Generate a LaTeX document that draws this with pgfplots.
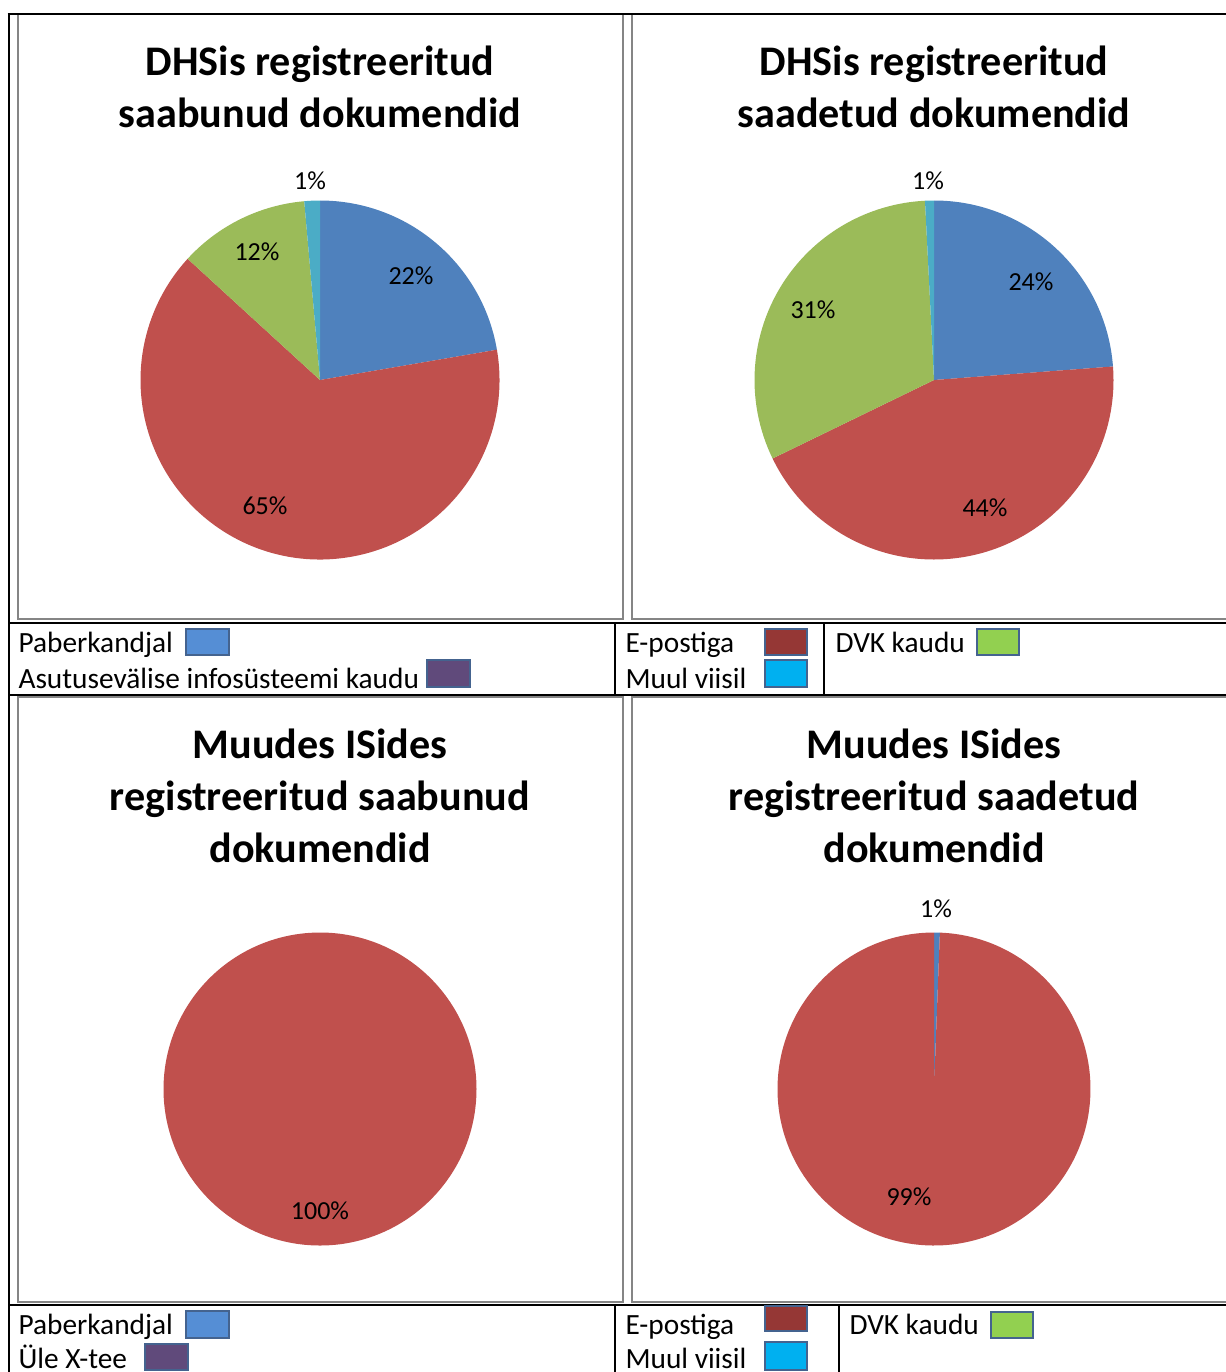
\documentclass[border=0pt]{standalone}
\usepackage{pgfplots}
\pgfplotsset{compat=1.18}
\usepackage{fontspec}
\setmainfont{Carlito}
\definecolor{sblue}{HTML}{4F81BD}
\definecolor{sred}{HTML}{C0504D}
\definecolor{sgreen}{HTML}{9BBB59}
\definecolor{scyan}{HTML}{4BACC6}
\definecolor{lblue}{HTML}{558ED5}
\definecolor{lpurple}{HTML}{604A7B}
\definecolor{lred}{HTML}{953735}
\definecolor{lcyan}{HTML}{00B0F0}
\definecolor{lgreen}{HTML}{92D050}
\definecolor{lborder}{HTML}{44638F}
\definecolor{frame}{HTML}{858585}
% slice: color, radius (pt), start percent, end percent (clockwise from 12 o'clock)
\newcommand\slice[4]{%
  \addplot[draw=none, fill=#1, mark=none] coordinates {(0,0) (0,0)}
    -- ++({90-3.6*#3}:#2pt) arc[start angle={90-3.6*#3}, end angle={90-3.6*#4}, radius=#2pt] -- cycle;}
\pgfplotsset{pieaxis/.style={anchor=center, scale only axis, hide axis, clip=false,
  xmin=-1, xmax=1, ymin=-1, ymax=1}}
\newcommand\lbox[5]{\draw[fill=#1, draw=lborder, line width=0.4pt] (#2,#3) rectangle (#4,#5);}
\newcommand\ttl{\bfseries\fontsize{15.8}{19}\selectfont}
\newcommand\pct{\fontsize{9.75}{12}\selectfont}
\newcommand\leg{\fontsize{11}{13}\selectfont}
\begin{document}
\begin{tikzpicture}[x=0.375pt,y=-0.375pt]
\path[use as bounding box] (0,0) rectangle (1226,1372);
\begin{scope}
\clip (0,0) rectangle (1226,1372);
% chart frames
\draw[frame, line width=0.75pt] (18,14) rectangle (623,619);
\draw[frame, line width=0.75pt] (632,14) rectangle (1240,619);
\draw[frame, line width=0.75pt] (18,697) rectangle (623,1302);
\draw[frame, line width=0.75pt] (632,697) rectangle (1240,1302);
% table borders
\draw[black, line width=0.75pt] (7.5,14) -- (1240,14);
\draw[black, line width=0.75pt] (8.5,13) -- (8.5,1380);
\draw[black, line width=0.75pt] (8,622.5) -- (1240,622.5);
\draw[black, line width=0.75pt] (8,695) -- (1240,695);
\draw[black, line width=0.75pt] (615,622.5) -- (615,695);
\draw[black, line width=0.75pt] (824,622.5) -- (824,695);
\draw[black, line width=0.75pt] (8,1305) -- (1240,1305);
\draw[black, line width=0.75pt] (615,1305) -- (615,1380);
\draw[black, line width=0.75pt] (839,1305) -- (839,1380);
% legend boxes
\lbox{lblue}{186}{629}{229}{655}
\lbox{lpurple}{427}{660}{470}{687}
\lbox{lred}{765}{629}{807}{655}
\lbox{lcyan}{765}{660}{807}{687}
\lbox{lgreen}{977}{629}{1019}{655}
\lbox{lblue}{186}{1311}{229}{1338}
\lbox{lpurple}{145}{1344}{188}{1370}
\lbox{lred}{765}{1306}{807}{1331}
\lbox{lcyan}{765}{1342}{807}{1370}
\lbox{lgreen}{991}{1312}{1033}{1338}
\end{scope}
% pies (centres in pt: x*0.375, -y*0.375)
\begin{axis}[pieaxis, at={(120pt,-142.5pt)}, width=134.625pt, height=134.625pt]
\slice{sblue}{67.3125}{0}{22.3}
\slice{sred}{67.3125}{22.3}{86.8}
\slice{sgreen}{67.3125}{86.8}{98.6}
\slice{scyan}{67.3125}{98.6}{100}
\end{axis}
\begin{axis}[pieaxis, at={(350.25pt,-142.5pt)}, width=134.625pt, height=134.625pt]
\slice{sblue}{67.3125}{0}{23.8}
\slice{sred}{67.3125}{23.8}{67.8}
\slice{sgreen}{67.3125}{67.8}{99.2}
\slice{scyan}{67.3125}{99.2}{100}
\end{axis}
\begin{axis}[pieaxis, at={(120pt,-408.375pt)}, width=117.375pt, height=117.375pt]
\slice{sred}{58.6875}{0}{100}
\end{axis}
\begin{axis}[pieaxis, at={(350.25pt,-408.375pt)}, width=117.375pt, height=117.375pt]
\slice{sblue}{58.6875}{0}{0.6}
\slice{sred}{58.6875}{0.6}{100}
\end{axis}
% titles
\begin{scope}[every node/.style={inner sep=0pt, anchor=base}]
\node[font=\ttl] at (320,75.5) {DHSis registreeritud};
\node[font=\ttl] at (320,127.5) {saabunud dokumendid};
\node[font=\ttl] at (934,75.5) {DHSis registreeritud};
\node[font=\ttl] at (934,127.5) {saadetud dokumendid};
\node[font=\ttl] at (320,758.5) {Muudes ISides};
\node[font=\ttl] at (320,810.5) {registreeritud saabunud};
\node[font=\ttl] at (320,862.5) {dokumendid};
\node[font=\ttl] at (934,758.5) {Muudes ISides};
\node[font=\ttl] at (934,810.5) {registreeritud saadetud};
\node[font=\ttl] at (934,862.5) {dokumendid};
\end{scope}
% percentage labels
\begin{scope}[every node/.style={inner sep=0pt, font=\pct}]
\node at (310,181) {1\%};
\node at (411,276) {22\%};
\node at (257,252) {12\%};
\node at (265,506) {65\%};
\node at (928,181) {1\%};
\node at (1031,282) {24\%};
\node at (813,310) {31\%};
\node at (985,508) {44\%};
\node at (320,1211) {100\%};
\node at (936,909) {1\%};
\node at (909,1197) {99\%};
\end{scope}
% legend text
\begin{scope}[every node/.style={inner sep=0pt, anchor=base west, font=\leg}]
\node at (18,652) {Paberkandjal};
\node at (18,688) {Asutusevälise infosüsteemi kaudu};
\node at (625,652) {E-postiga};
\node at (625,688) {Muul viisil};
\node at (835,652) {DVK kaudu};
\node at (18,1334) {Paberkandjal};
\node at (18,1368) {Üle X-tee};
\node at (625,1334) {E-postiga};
\node at (625,1368) {Muul viisil};
\node at (849,1334) {DVK kaudu};
\end{scope}
\end{tikzpicture}
\end{document}
